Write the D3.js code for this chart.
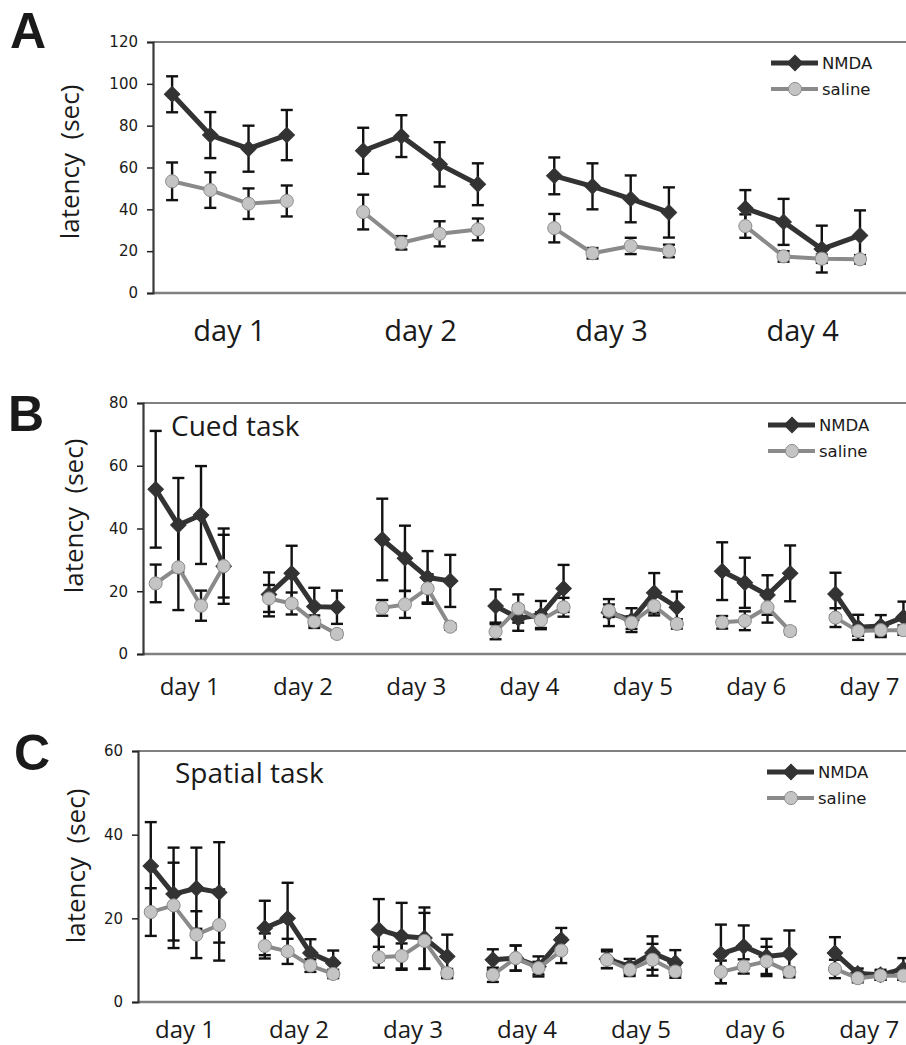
<!DOCTYPE html>
<html>
<head>
<meta charset="utf-8">
<script src="https://cdn.jsdelivr.net/npm/d3@7"></script>
<style>
  body { margin: 0; background: #fff; }
  svg { display: block; }
</style>
</head>
<body>
<svg id="chart" width="906" height="1045"></svg>
<script>
var svg = d3.select("#chart");

// Data (latency in sec, mean and error per trial, 4 trials per day)
var daysA = ["day 1", "day 2", "day 3", "day 4"];
var ticksA = [0, 20, 40, 60, 80, 100, 120];
var nmdaA = [95, 75.5, 69, 75.5, 68, 75, 61.5, 52, 56, 51, 45, 38.5, 40.5, 34, 21, 27.5];
var nmdaErrA = [8.6, 11, 11, 12, 11, 10, 10.6, 10, 8.8, 11, 11.2, 12, 8.7, 11, 11.2, 12];
var salineA = [53.4, 49.2, 42.7, 44, 38.7, 24, 28.3, 30.4, 31, 19, 22.5, 20.1, 32, 17.5, 16.4, 16.1];
var salineErrA = [9, 8.5, 7.3, 7.4, 8.3, 3.2, 6, 5.2, 6.8, 2.5, 3.9, 3, 5.6, 2.5, 2, 2];

var daysB = ["day 1", "day 2", "day 3", "day 4", "day 5", "day 6", "day 7"];
var ticksB = [0, 20, 40, 60, 80];
var nmdaB = [52.5, 41.1, 44.3, 28, 19, 25.7, 15.1, 14.9, 36.5, 30.5, 24.4, 23.3, 15.3, 11.4, 12.4, 20.9,
             13.2, 10.8, 19.5, 14.9, 26.4, 22.7, 18.8, 25.7, 19.1, 8.5, 8.9, 11.7];
var nmdaErrB = [18.6, 15, 15.6, 12, 7, 8.8, 6, 5.3, 13, 10.4, 8.4, 8.3, 5.3, 4, 4.5, 7.5,
                4.3, 3.8, 6.3, 5, 9.2, 8, 6.3, 8.9, 6.8, 4, 3.5, 5];
var salineB = [22.5, 27.6, 15.4, 28, 17.7, 16.1, 10.3, 6.4, 14.7, 15.8, 20.9, 8.7, 7.1, 14.5, 10.8, 14.9,
               13.8, 10, 15.3, 9.6, 10.1, 10.6, 14.9, 7.3, 11.6, 7.3, 7.6, 7.6];
var salineErrB = [6, 13.6, 4.8, 10, 4.3, 3.5, 2, 1, 2.5, 4.3, 4.5, 1, 2.4, 4.5, 2.5, 3,
                  2, 2, 3, 1.5, 2, 3, 4.9, 1, 3, 1.5, 1.5, 1.5];

var daysC = ["day 1", "day 2", "day 3", "day 4", "day 5", "day 6", "day 7"];
var ticksC = [0, 20, 40, 60];
var nmdaC = [32.5, 25.8, 27.2, 26.2, 17.7, 20, 11.7, 9.3, 17.3, 15.7, 15.3, 10.9, 10.1, 10.5, 8.5, 14.9,
             10.3, 8.5, 11.7, 9.4, 11.5, 13.3, 10.9, 11.5, 11.7, 6.8, 6.5, 7.9];
var nmdaErrC = [10.5, 11.1, 9.7, 12, 6.5, 8.5, 3.3, 3, 7.3, 8, 7.3, 5.2, 2.5, 3, 2.4, 2.8,
                2.2, 1.8, 4, 3, 7, 5, 4.2, 5.6, 3.8, 1.2, 1.2, 2.6];
var salineC = [21.5, 23.1, 16.1, 18.4, 13.4, 12.1, 8.7, 6.7, 10.7, 11, 14.6, 6.9, 6.5, 10.5, 8.1, 12.3,
               10.1, 7.7, 10.1, 7.3, 7.2, 8.5, 9.7, 7.2, 7.9, 5.7, 6.3, 6.3];
var salineErrC = [5.7, 10.2, 5.6, 8.5, 3, 3, 1.5, 1, 2.5, 3, 6.7, 1, 1.7, 3, 1.5, 3,
                  2, 1.5, 3.8, 1.5, 2.7, 1.7, 3.5, 1, 2.2, 1, 1, 1];

var seriesNames = ["NMDA", "saline"];

var TRIALS = 4;
var humanist = "'Open Sans', 'Noto Sans', sans-serif";
var verdanaish = "'DejaVu Sans', Verdana, sans-serif";

// one slot per trial, one empty slot between days
function slot(i) { return Math.floor(i / TRIALS) * (TRIALS + 1) + (i % TRIALS); }

function drawPanel(p) {
  var g = svg.append("g");
  var nSlots = p.days.length * (TRIALS + 1) - 1;

  var x = d3.scaleLinear().domain([p.pad, nSlots - 1 + p.padR]).range([p.left, 920]);
  var y = d3.scaleLinear().domain([0, d3.max(p.ticks)]).range([p.bottom, p.top]);

  // plot frame: grey top and bottom, dark left axis
  g.append("line").attr("x1", p.left).attr("x2", 920).attr("y1", p.top).attr("y2", p.top)
    .attr("stroke", "#808080").attr("stroke-width", 2.2);
  g.append("line").attr("x1", p.left).attr("x2", 920).attr("y1", p.bottom).attr("y2", p.bottom)
    .attr("stroke", "#808080").attr("stroke-width", 2.4);

  var ax = g.append("g")
    .attr("transform", "translate(" + p.left + ",0)")
    .call(d3.axisLeft(y).tickValues(p.ticks).tickSize(6).tickPadding(9));
  ax.attr("font-family", verdanaish).attr("font-size", 15);
  ax.select(".domain").attr("stroke", "#3a3a3a").attr("stroke-width", 2.2);
  ax.selectAll(".tick line").attr("stroke", "#222").attr("stroke-width", 1.5);
  ax.selectAll(".tick text")
    .style("font-family", verdanaish).style("font-size", "15px").attr("fill", "#1a1a1a");

  // y axis title
  g.append("text")
    .attr("transform", "translate(" + p.ylabX + "," + p.ylabY + ") rotate(-90)")
    .attr("text-anchor", "middle")
    .style("font-family", humanist).style("font-size", "26px").attr("fill", "#1a1a1a")
    .attr("xml:space", "preserve")
    .text("latency  (sec)");

  // day labels under each group of trials
  g.selectAll(".daylab").data(p.days).enter().append("text")
    .attr("x", function(d, i) { return x(i * (TRIALS + 1) + (TRIALS - 1) / 2); })
    .attr("y", p.dayY)
    .attr("text-anchor", "middle")
    .style("font-family", humanist).style("font-size", p.dayFont + "px").attr("fill", "#1a1a1a")
    .text(function(d) { return d; });

  // panel letter
  svg.append("text").attr("x", p.letterX).attr("y", p.letterY)
    .style("font-family", "'Liberation Sans', Arial, sans-serif").style("font-weight", 700)
    .style("font-size", "50px").attr("fill", "#1a1a1a")
    .text(p.letter);

  if (p.title) {
    g.append("text").attr("x", p.titleX).attr("y", p.titleY)
      .style("font-family", humanist).style("font-size", "28px").attr("fill", "#1a1a1a")
      .text(p.title);
  }

  var series = [
    { name: seriesNames[0], vals: p.nmda, errs: p.nmdaErr, line: "#333", lw: 5,
      sym: d3.symbolSquare, size: 120, rot: 45, fill: "#333", stroke: "#333" },
    { name: seriesNames[1], vals: p.saline, errs: p.salineErr, line: "#8a8a8a", lw: 4,
      sym: d3.symbolCircle, size: 135, rot: 0, fill: "#c4c4c4", stroke: "#8c8c8c" }
  ];

  // error bars (both series, under the lines)
  series.forEach(function(s) {
    var eb = g.append("g");
    s.vals.forEach(function(v, i) {
      var cx = x(slot(i)), hi = y(v + s.errs[i]), lo = y(Math.max(0, v - s.errs[i]));
      eb.append("line").attr("x1", cx).attr("x2", cx).attr("y1", hi).attr("y2", lo)
        .attr("stroke", "#111").attr("stroke-width", 2.4);
      [hi, lo].forEach(function(yy) {
        eb.append("line").attr("x1", cx - 6).attr("x2", cx + 6).attr("y1", yy).attr("y2", yy)
          .attr("stroke", "#111").attr("stroke-width", 2.4);
      });
    });
  });

  series.forEach(function(s) {
    var line = d3.line().x(function(d) { return x(slot(d.i)); }).y(function(d) { return y(d.v); });
    for (var k = 0; k < p.days.length; k++) {
      var pts = s.vals.slice(k * TRIALS, k * TRIALS + TRIALS).map(function(v, j) {
        return { i: k * TRIALS + j, v: v };
      });
      g.append("path").attr("d", line(pts))
        .attr("fill", "none").attr("stroke", s.line).attr("stroke-width", s.lw)
        .attr("stroke-linejoin", "round");
    }
    g.selectAll(null).data(s.vals).enter().append("path")
      .attr("d", d3.symbol().type(s.sym).size(s.size))
      .attr("transform", function(d, i) {
        return "translate(" + x(slot(i)) + "," + y(d) + ") rotate(" + s.rot + ")";
      })
      .attr("fill", s.fill).attr("stroke", s.stroke).attr("stroke-width", 1);
  });

  // legend
  series.forEach(function(s, i) {
    var ly = p.legY + i * 26;
    g.append("line").attr("x1", p.legX).attr("x2", p.legX + 47).attr("y1", ly).attr("y2", ly)
      .attr("stroke", s.line).attr("stroke-width", s.lw);
    g.append("path").attr("d", d3.symbol().type(s.sym).size(s.size))
      .attr("transform", "translate(" + (p.legX + 24) + "," + ly + ") rotate(" + s.rot + ")")
      .attr("fill", s.fill).attr("stroke", s.stroke).attr("stroke-width", 1);
    g.append("text").attr("x", p.legX + 51).attr("y", ly + 6)
      .style("font-family", verdanaish).style("font-size", "16.5px").attr("fill", "#1a1a1a")
      .text(s.name);
  });
}

drawPanel({ letter: "A", letterX: 10, letterY: 48, days: daysA, ticks: ticksA,
  nmda: nmdaA, nmdaErr: nmdaErrA, saline: salineA, salineErr: salineErrA,
  left: 153, top: 42, bottom: 293, pad: -0.5, padR: 1.57,
  ylabX: 79, ylabY: 162, dayY: 341, dayFont: 29, legX: 771, legY: 63 });

drawPanel({ letter: "B", letterX: 8, letterY: 431, days: daysB, ticks: ticksB,
  nmda: nmdaB, nmdaErr: nmdaErrB, saline: salineB, salineErr: salineErrB,
  left: 143, top: 403, bottom: 654, pad: -0.56, padR: 0.73,
  ylabX: 83, ylabY: 516, dayY: 695, dayFont: 24, legX: 768, legY: 425,
  title: "Cued task", titleX: 171, titleY: 436 });

drawPanel({ letter: "C", letterX: 14, letterY: 770, days: daysC, ticks: ticksC,
  nmda: nmdaC, nmdaErr: nmdaErrC, saline: salineC, salineErr: salineErrC,
  left: 138, top: 751, bottom: 1002, pad: -0.56, padR: 0.73,
  ylabX: 85, ylabY: 866, dayY: 1038, dayFont: 24, legX: 767, legY: 772,
  title: "Spatial task", titleX: 175, titleY: 783 });
</script>
</body>
</html>
